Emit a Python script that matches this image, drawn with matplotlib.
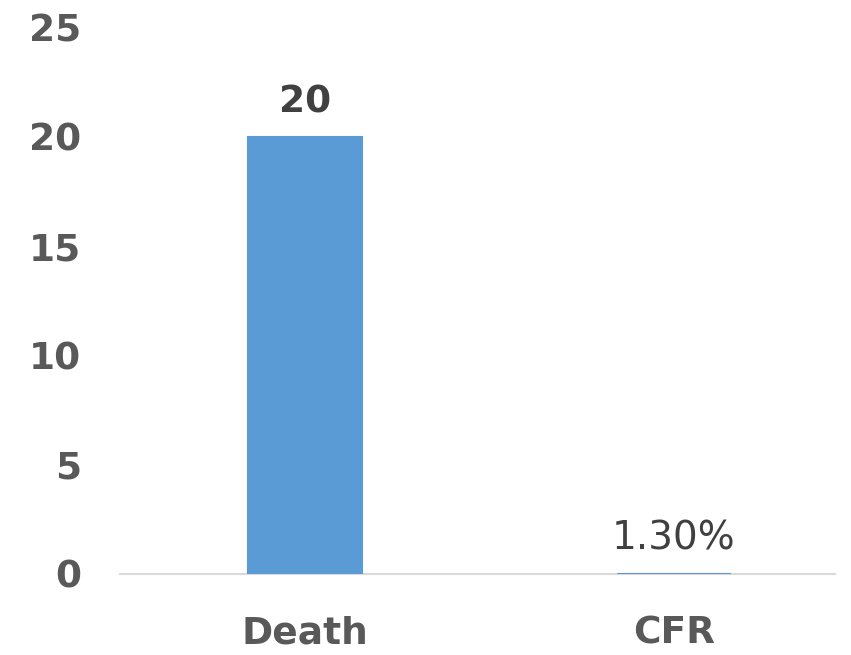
import matplotlib.pyplot as plt

# chart data
categories = ['Death', 'CFR']
values = [20, 0.013]
value_labels = ['20', '1.30%']
label_weights = ['bold', 'normal']
y_ticks = [0, 5, 10, 15, 20, 25]

bar_color = '#5B9BD5'
tick_color = '#595959'
label_color = '#404040'

fig = plt.figure(figsize=(8.51, 6.55), dpi=100)
ax = fig.add_axes([0.141, 0.1237, 0.840, 0.834])

x = list(range(len(categories)))
# thin edge so the tiny CFR bar still shows as a line, like the original
bars = ax.bar(x, values, width=0.31, color=bar_color, edgecolor=bar_color,
              linewidth=1.5, zorder=3)

for bar, text, weight in zip(bars, value_labels, label_weights):
    size = 27 if weight == 'bold' else 28
    ax.annotate(text, (bar.get_x() + bar.get_width() / 2, bar.get_height()),
                textcoords='offset points', xytext=(0, 12), ha='center', va='bottom',
                fontsize=size, fontweight=weight, color=label_color)

ax.set_xlim(-0.501, 1.436)
ax.set_ylim(0, 25)
ax.set_yticks(y_ticks)
ax.set_xticks(x)
ax.set_xticklabels(categories)

for lbl in ax.get_yticklabels() + ax.get_xticklabels():
    lbl.set_fontsize(27)
    lbl.set_fontweight('bold')
    lbl.set_color(tick_color)

ax.tick_params(axis='y', length=0, pad=28)
ax.tick_params(axis='x', length=0, pad=30)

for side in ['top', 'right', 'left']:
    ax.spines[side].set_visible(False)
ax.spines['bottom'].set_color('#D9D9D9')
ax.spines['bottom'].set_linewidth(1.5)

fig.savefig('out.png', dpi=100)
